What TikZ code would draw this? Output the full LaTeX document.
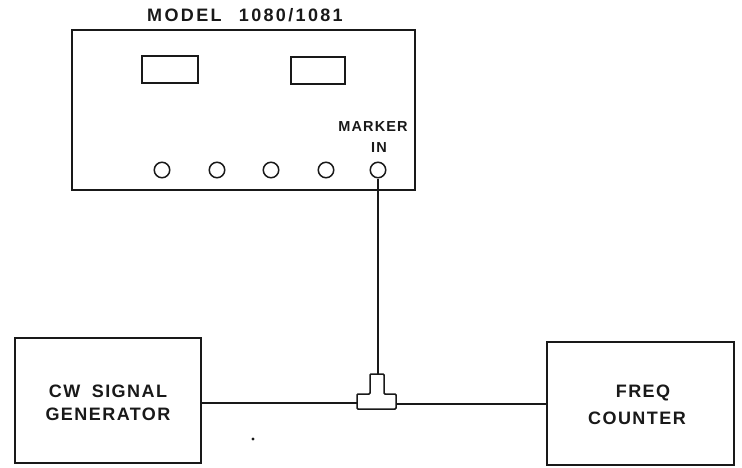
\documentclass[tikz,border=0pt]{standalone}
\usepackage{fontspec}
\setmainfont[LetterSpace=8]{Liberation Sans}
\tikzset{
  line/.style={draw=black!90,line width=1.5pt},
  panel/.style={line,line width=1.8pt},
  port/.style={line,circle,minimum size=15.5pt,inner sep=0pt},
  lbl/.style={font=\fontsize{18}{18}\selectfont\bfseries,align=center,text=black!90,inner sep=0pt},
  lblsmall/.style={font=\fontsize{14.5}{15}\selectfont\bfseries,align=center,text=black!90,inner sep=0pt}
}
\begin{document}
\begin{tikzpicture}[x=1pt,y=-1pt]
\useasboundingbox (0,0) rectangle (742,467);
\fill[white] (0,0) rectangle (742,467);
\node[lbl] (title) at (245,15) {\addfontfeature{LetterSpace=13}MODEL\hspace{10pt} 1080/1081};
\node[panel,minimum width=343pt,minimum height=160pt,inner sep=0pt] (unit) at (243.5,110) {};
\node[line,minimum width=56pt,minimum height=27pt,inner sep=0pt] (w1) at (170,69.5) {};
\node[line,minimum width=54pt,minimum height=27pt,inner sep=0pt] (w2) at (318,70.5) {};
\node[lblsmall] (marker) at (373,127) {MARKER};
\node[lblsmall] (in) at (379,148) {IN};
\node[port] (p1) at (162,170) {};
\node[port] (p2) at (217,170) {};
\node[port] (p3) at (271,170) {};
\node[port] (p4) at (326,170) {};
\node[port] (p5) at (378,170) {};
\node[panel,minimum width=186pt,minimum height=125pt,inner sep=0pt] (gen) at (108,400.5) {};
\node[lbl] (gen1) at (108,391) {CW\hspace{5pt} SIGNAL};
\node[lbl] (gen2) at (108,414) {GENERATOR};
\node[panel,minimum width=187pt,minimum height=123pt,inner sep=0pt] (cnt) at (640.5,403.5) {};
\node[lbl] (cnt1) at (643,393) {FREQ};
\node[lbl] (cnt2) at (637,418) {COUNTER};
\node[minimum width=39pt,minimum height=15pt,inner sep=0pt] (tbar) at (376.5,401.5) {};
\coordinate (stemTop) at (p5.south |- 0,374);
\draw[line,rounded corners=1pt] (370,394) -- (370,374) -- (384,374) -- (384,394) -- (396,394) -- (396,409) -- (357,409) -- (357,394) -- cycle;
\draw[line] (p5.south) -- (stemTop);
\coordinate (wireL) at (gen.east |- 0,403);
\coordinate (wireR) at (cnt.west |- 0,404);
\draw[line] (wireL) -- (tbar.west |- wireL);
\draw[line] (tbar.east |- wireR) -- (wireR);
\fill[black!90] (253,439) circle (1.6pt);
\end{tikzpicture}
\end{document}
